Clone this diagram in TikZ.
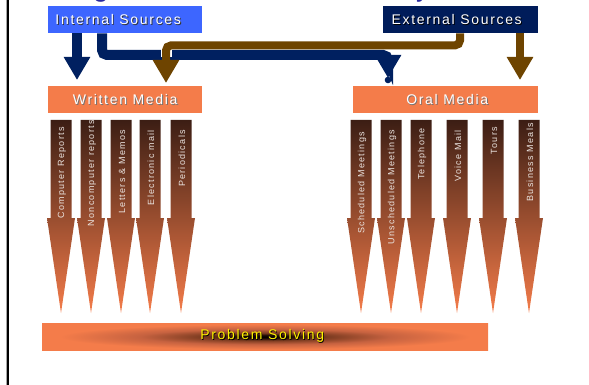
\documentclass[tikz,border=0pt]{standalone}
\usepackage{fontspec}
\setmainfont{Liberation Sans}
\newfontfamily\spacedsans[LetterSpace=12]{Liberation Sans}
\newfontfamily\labelsans[LetterSpace=14]{Liberation Sans}
\usetikzlibrary{arrows.meta,calc}

\definecolor{intblue}{RGB}{61,102,255}
\definecolor{extnavy}{RGB}{0,28,90}
\definecolor{mediaorange}{RGB}{244,124,74}
\definecolor{linknavy}{RGB}{0,32,96}
\definecolor{linkbrown}{RGB}{110,68,0}
\definecolor{stemtop}{RGB}{60,30,20}
\definecolor{titleblue}{RGB}{40,40,160}
\definecolor{glowdark}{RGB}{36,14,6}
\definecolor{glowbrown}{RGB}{125,60,33}
\definecolor{glowmid}{RGB}{198,98,64}
\definecolor{labelgrey}{RGB}{235,228,224}

% dark core fading out to orange at the edges of the bar
\pgfdeclareradialshading{psglow}{\pgfpoint{0bp}{0bp}}{%
  color(0bp)=(black); color(3bp)=(glowdark); color(7bp)=(glowbrown);
  color(14bp)=(glowmid); color(23bp)=(mediaorange); color(50bp)=(mediaorange)}

% text with an offset drop shadow behind it
\newcommand\shadowtext[2]{\makebox[0pt][l]{\hspace{0.9pt}\raisebox{-0.9pt}{\textcolor{#1}{#2}}}#2}

\tikzset{
  headbox/.style={inner sep=0pt, minimum width=154pt, minimum height=27pt,
    anchor=north west, text=white, font=\spacedsans\fontsize{14}{16}\selectfont},
  navylink/.style={draw=linknavy, line width=10pt, rounded corners=5pt,
    -{Triangle[length=23pt,width=25pt]}},
  brownlink/.style={draw=linkbrown, line width=8pt, rounded corners=5pt,
    -{Triangle[length=23pt,width=25pt]}},
  stem/.style={top color=stemtop, bottom color=mediaorange},
  stemlabel/.style={rotate=90, anchor=east, inner sep=0pt, text=labelgrey,
    font=\labelsans\fontsize{9}{10}\selectfont},
}

\begin{document}
\begin{tikzpicture}[x=1pt, y=-1pt]
  \useasboundingbox (0,0) rectangle (589,385);

  % left rule of the page
  \draw[line width=3pt, black!35] (7.8,0) -- (7.8,385);
  \draw[line width=2pt, black] (7.8,0) -- (7.8,385);

  % descenders of the heading above the frame
  \begin{scope}
    \clip (0,0) rectangle (589,385);
    \node[anchor=base, inner sep=0pt, text=titleblue, font=\fontsize{28}{30}\selectfont] (hg) at (101,-3) {g};
    \node[anchor=base, inner sep=0pt, text=titleblue, font=\fontsize{28}{30}\selectfont] (hy) at (423,-3) {y};
  \end{scope}

  % sources and media
  \node[headbox, fill=intblue] (is) at (48,6) {\hspace*{-14pt}\shadowtext{black!80}{Internal Sources}};
  \node[headbox, fill=extnavy, minimum width=155pt] (es) at (383,6) {\hspace*{-8pt}\shadowtext{black}{External Sources}};
  \node[headbox, fill=mediaorange] (wm) at (48,86) {\shadowtext{black!55}{Written Media}};
  \node[headbox, fill=mediaorange, minimum width=185pt] (om) at (353,86) {\hspace*{3pt}\shadowtext{black!55}{Oral Media}};

  % connectors from the sources
  \draw[navylink] ($(is.south west)+(29,0)$) -- ($(wm.north west)+(29,-6)$);
  \draw[navylink] ($(is.south west)+(54,0)$) |- ($(om.north west)+(35,-31)$) -- ($(om.north west)+(35,-8)$);
  \fill[linknavy] ($(om.north west)+(35,-6)$) circle (3.3);
  \draw[white, line width=11pt] ($(es.south west)+(-217,15)$) -- ($(es.south west)+(-217,24)$);
  \draw[brownlink] ($(es.south west)+(77,0)$) -- ($(es.south west)+(77,12)$) -| ($(wm.north west)+(118,-3)$);
  \draw[brownlink] ($(es.south west)+(137,0)$) -- ($(om.north west)+(167,-6)$);

  % media channels as tapering arrows
  \foreach \cx in {61,91,121,150,181,361,391,421,457,493,529}
    \shade[stem] (\cx-10.5,120) -- (\cx+10.5,120) -- (\cx+10.5,218) -- (\cx+14,218)
      -- (\cx,313) -- (\cx-14,218) -- (\cx-10.5,218) -- cycle;

  \node[stemlabel] (w1) at (62,127) {Computer Reports};
  \node[stemlabel] (w2) at (92,120) {Noncomputer reports};
  \node[stemlabel] (w3) at (122,130) {Letters \& Memos};
  \node[stemlabel] (w4) at (151,130) {Electronic mail};
  \node[stemlabel] (w5) at (182,130) {Periodicals};
  \node[stemlabel] (o1) at (362,132) {Scheduled Meetings};
  \node[stemlabel] (o2) at (392,130) {Unscheduled Meetings};
  \node[stemlabel] (o3) at (422,128) {Telephone};
  \node[stemlabel] (o4) at (458,130) {Voice Mail};
  \node[stemlabel] (o5) at (494,127) {Tours};
  \node[stemlabel] (o6) at (530,123) {Business Meals};

  % common outcome bar
  \node[shading=psglow, anchor=north west, minimum width=446pt, minimum height=27pt, inner sep=0pt] (ps) at (42,323) {};
  \node[text=yellow, inner sep=0pt, font=\spacedsans\fontsize{14}{16}\selectfont] (psl) at ($(ps.center)+(-3,0)$) {\shadowtext{black}{Problem Solving}};
\end{tikzpicture}
\end{document}
